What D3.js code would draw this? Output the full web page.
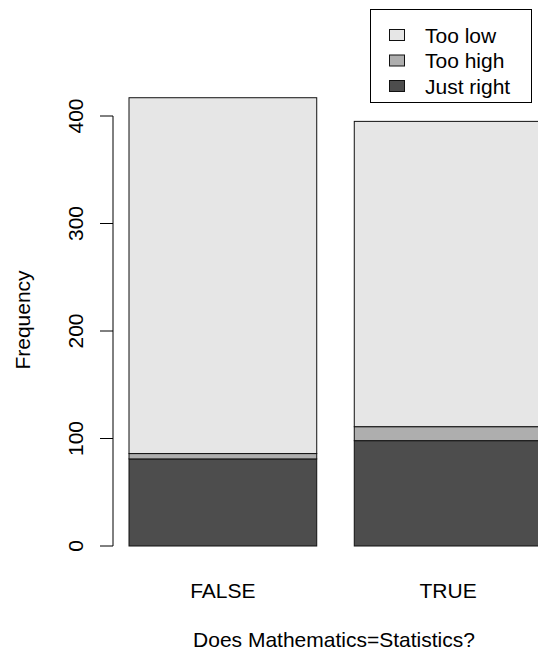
<!DOCTYPE html>
<html>
<head>
<meta charset="utf-8">
<script src="https://cdn.jsdelivr.net/npm/d3@7"></script>
<style>
  html, body { margin: 0; padding: 0; background: #fff; }
  svg { display: block; font-family: "Liberation Sans", Arial, sans-serif; }
</style>
</head>
<body>
<div id="chart"></div>
<script>
// datos
const categorias = ["FALSE", "TRUE"];
const series = ["Just right", "Too high", "Too low"];
const justRight = [81, 98];
const tooHigh = [5, 13];
const tooLow = [331, 284];
const ticksY = [0, 100, 200, 300, 400];
const ordenLeyenda = ["Too low", "Too high", "Just right"];

const ANCHO = 538, ALTO = 656;
const FUENTE = 21;

const colores = d3.scaleOrdinal()
  .domain(series)
  .range(["#4d4d4d", "#aeaeae", "#e6e6e6"]);

const svg = d3.select("#chart").append("svg")
  .attr("width", ANCHO)
  .attr("height", ALTO)
  .attr("viewBox", `0 0 ${ANCHO} ${ALTO}`);

const y = d3.scaleLinear().domain([0, 400]).range([546, 116]);

const x = d3.scaleBand()
  .domain(categorias)
  .range([129, 542])
  .paddingInner(1 / 6)
  .paddingOuter(0);

// tabla para el apilado
const tabla = categorias.map((c, i) => ({
  cat: c,
  "Just right": justRight[i],
  "Too high": tooHigh[i],
  "Too low": tooLow[i]
}));
const apilado = d3.stack().keys(series)(tabla);

svg.append("g")
  .selectAll("g")
  .data(apilado)
  .join("g")
  .attr("fill", d => colores(d.key))
  .selectAll("rect")
  .data(d => d)
  .join("rect")
  .attr("x", d => x(d.data.cat))
  .attr("y", d => y(d[1]))
  .attr("width", x.bandwidth())
  .attr("height", d => y(d[0]) - y(d[1]))
  .attr("stroke", "#111")
  .attr("stroke-width", 1);

// eje Y estilo R
const ejeY = svg.append("g").attr("stroke", "#000").attr("stroke-width", 1);
ejeY.append("line")
  .attr("x1", 113).attr("x2", 113)
  .attr("y1", y(0)).attr("y2", y(400));
ejeY.selectAll(".tick")
  .data(ticksY)
  .join("line")
  .attr("x1", 100).attr("x2", 113)
  .attr("y1", d => y(d)).attr("y2", d => y(d));

svg.append("g")
  .selectAll("text")
  .data(ticksY)
  .join("text")
  .attr("transform", d => `translate(83,${y(d)}) rotate(-90)`)
  .attr("text-anchor", "middle")
  .attr("font-size", FUENTE)
  .text(d => d);

svg.append("text")
  .attr("transform", "translate(30,320) rotate(-90)")
  .attr("text-anchor", "middle")
  .attr("font-size", FUENTE)
  .text("Frequency");

// etiquetas de categorias
svg.append("g")
  .selectAll("text")
  .data(categorias)
  .join("text")
  .attr("x", d => x(d) + x.bandwidth() / 2)
  .attr("y", 598)
  .attr("text-anchor", "middle")
  .attr("font-size", FUENTE)
  .text(d => d);

svg.append("text")
  .attr("x", 334)
  .attr("y", 647)
  .attr("text-anchor", "middle")
  .attr("font-size", FUENTE)
  .text("Does Mathematics=Statistics?");

// leyenda
const leyenda = svg.append("g");
leyenda.append("rect")
  .attr("x", 370.5).attr("y", 9.5)
  .attr("width", 161).attr("height", 93)
  .attr("fill", "#fff")
  .attr("stroke", "#000");

const filas = leyenda.selectAll("g.fila")
  .data(ordenLeyenda)
  .join("g")
  .attr("class", "fila")
  .attr("transform", (d, i) => `translate(0,${35 + i * 25.5})`);

filas.append("rect")
  .attr("x", 389.5).attr("y", -5.5)
  .attr("width", 15).attr("height", 11)
  .attr("fill", d => colores(d))
  .attr("stroke", "#111");

filas.append("text")
  .attr("x", 425)
  .attr("y", 7.5)
  .attr("font-size", FUENTE)
  .text(d => d);
</script>
</body>
</html>
